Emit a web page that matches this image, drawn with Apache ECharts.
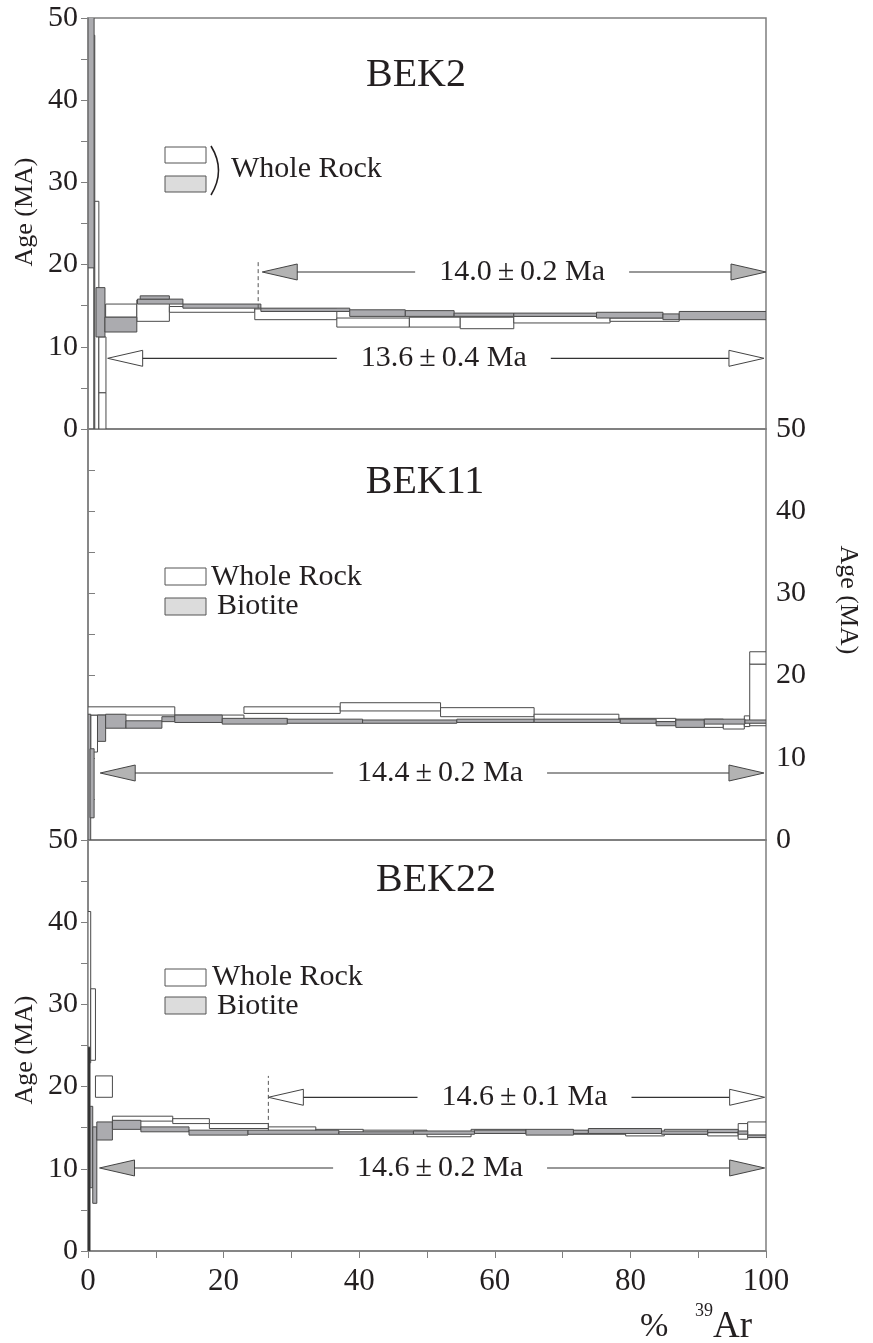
<!DOCTYPE html>
<html><head><meta charset="utf-8">
<script src="https://cdn.jsdelivr.net/npm/echarts@6/dist/echarts.min.js"></script>
<style>html,body{margin:0;padding:0;background:#fff}#c{width:873px;height:1343px}</style>
</head><body><div id="c"></div>
<script>
// ---- data: [x from %, x to %, age low, age high] ----
const bek2Whole = [
  [0.85, 1.0, 0, 47.9], [1.0, 1.6, 0, 27.7], [1.6, 2.65, 4.4, 11.2], [1.6, 2.65, 0, 4.4],
  [2.6, 7.2, 13.6, 15.2], [7.2, 12.0, 13.1, 15.7], [12.0, 24.6, 14.2, 14.9],
  [24.6, 36.7, 13.3, 14.6], [36.7, 47.4, 12.4, 13.5], [47.4, 54.9, 12.4, 13.6],
  [54.9, 62.8, 12.2, 13.6], [62.8, 77.0, 12.9, 13.7], [77.0, 87.2, 13.1, 13.5], [87.2, 100, 13.6, 13.9]
];
const bek2Bio = [
  [0, 0.9, 19.6, 55], [1.18, 2.5, 11.2, 17.2], [2.5, 7.2, 11.8, 13.6], [7.3, 14.0, 15.2, 15.8],
  [7.7, 12.0, 15.8, 16.2], [14.0, 25.5, 14.7, 15.2], [25.5, 38.6, 14.3, 14.7], [38.6, 46.8, 13.7, 14.5],
  [46.8, 54.0, 13.7, 14.4], [54.0, 62.8, 13.7, 14.1], [62.8, 75.0, 13.7, 14.1], [75.0, 84.8, 13.5, 14.2],
  [84.8, 87.2, 13.3, 14.0], [87.2, 100, 13.3, 14.3]
];
const bek11Whole = [
  [0.4, 1.4, 10.7, 15.2], [0, 12.8, 15.2, 16.2], [12.8, 23.0, 14.6, 15.2], [23.0, 37.2, 15.4, 16.2],
  [37.2, 52.0, 15.7, 16.7], [52.0, 65.8, 15.0, 16.1], [65.8, 78.3, 14.5, 15.3], [78.3, 86.7, 14.4, 14.8],
  [86.7, 90.9, 13.9, 14.7], [90.9, 93.7, 13.7, 14.7], [93.7, 96.8, 13.5, 14.4], [96.8, 97.6, 13.8, 15.1],
  [97.6, 100, 13.9, 21.4], [97.6, 100, 21.4, 22.9]
];
const bek11Bio = [
  [0, 0.4, 0, 15.3], [0.3, 0.9, 2.7, 11.1], [1.4, 2.6, 12.0, 15.2], [2.6, 5.6, 13.6, 15.3],
  [5.6, 10.9, 13.6, 14.5], [10.9, 12.8, 14.4, 15.0], [12.8, 19.8, 14.3, 15.2], [19.8, 29.4, 14.1, 14.8],
  [29.4, 40.5, 14.2, 14.7], [40.5, 54.4, 14.2, 14.6], [54.4, 65.8, 14.3, 14.7], [65.8, 78.5, 14.3, 14.7],
  [78.5, 83.8, 14.2, 14.7], [83.8, 86.7, 13.9, 14.4], [86.7, 90.9, 13.7, 14.6], [90.9, 96.9, 14.1, 14.7],
  [96.9, 100, 14.2, 14.6]
];
const bek22Whole = [
  [0, 0.4, 22.9, 41.3], [0.4, 1.1, 23.2, 31.9], [1.1, 3.6, 18.7, 21.3], [3.6, 12.5, 15.8, 16.4],
  [12.5, 17.9, 15.5, 16.1], [17.9, 26.6, 14.9, 15.5], [26.6, 33.6, 14.5, 15.1], [33.6, 40.6, 14.4, 14.8],
  [40.6, 50.0, 14.3, 14.7], [50.0, 56.5, 13.9, 14.4], [56.5, 64.6, 14.4, 14.8], [64.6, 71.6, 14.3, 14.6],
  [71.6, 79.3, 14.2, 14.6], [79.3, 85.0, 14.0, 14.5], [85.0, 91.4, 14.2, 14.8], [91.4, 95.9, 14.0, 14.4],
  [95.9, 97.3, 13.6, 15.5], [97.3, 100, 14.1, 15.7]
];
const bek22Bio = [
  [0.25, 0.7, 7.7, 17.6], [0.7, 1.3, 5.8, 15.1], [1.3, 3.6, 13.5, 15.7],
  [3.6, 7.8, 14.8, 15.9], [7.8, 14.9, 14.5, 15.1], [14.9, 23.6, 14.1, 14.7], [23.6, 37.0, 14.2, 14.7],
  [37.0, 48.0, 14.2, 14.5], [48.0, 57.0, 14.2, 14.6], [57.0, 64.6, 14.3, 14.7], [64.6, 71.6, 14.1, 14.8],
  [71.6, 73.8, 14.3, 14.7], [73.8, 84.6, 14.3, 14.9], [84.6, 91.4, 14.2, 14.6], [91.4, 95.9, 14.4, 14.8],
  [95.9, 97.3, 14.2, 14.6], [97.3, 100, 13.8, 14.1]
];
const bek22BioFirst = [[0, 0.3, 0, 24.8]];
// plateau arrows: [from %, to %, drawn at age, plateau age, error, filled head (1) / open (0)]
const bek2Plateaus = [[25.7, 100, 19.1, 14.0, 0.2, 1], [2.9, 99.7, 8.6, 13.6, 0.4, 0]];
const bek11Plateaus = [[1.8, 99.7, 8.15, 14.4, 0.2, 1]];
const bek22Plateaus = [[26.6, 99.8, 18.7, 14.6, 0.1, 0], [1.7, 99.8, 10.1, 14.6, 0.2, 1]];
// dashed plateau start markers: [x %, age low, age high]
const bek2Dash = [[25.1, 14.7, 20.6]];
const bek22Dash = [[26.6, 15.1, 21.3]];
const sampleNames = ['BEK2', 'BEK11', 'BEK22'];
const yTicksMajor = [0, 10, 20, 30, 40, 50];
const xTicksMajor = [0, 20, 40, 60, 80, 100];

const FONT = '"Liberation Serif", "Times New Roman", serif';
const TXT = '#231f20';
const AXC = '#7f7f7f';
const STROKE = '#4a4a4a';
const BIO = '#ababaf';
const LEG_BIO = '#dcdcdc';

const mctx = document.createElement('canvas').getContext('2d');
function textW(t, size) { mctx.font = size + 'px ' + FONT; return mctx.measureText(t).width; }

function stepRender(fill) {
  return function (params, api) {
    const p0 = api.coord([api.value(0), api.value(3)]);
    const p1 = api.coord([api.value(1), api.value(2)]);
    return { type: 'rect', shape: { x: p0[0], y: p0[1], width: p1[0] - p0[0], height: p1[1] - p0[1] },
      style: { fill: fill, stroke: STROKE, lineWidth: 1 } };
  };
}
function arrowRender(params, api) {
  const y = api.coord([0, api.value(2)])[1];
  const xl = api.coord([api.value(0), 0])[0];
  const xr = api.coord([api.value(1), 0])[0];
  const fill = api.value(5) === 1 ? '#b3b3b3' : '#ffffff';
  const label = api.value(3).toFixed(1) + '\u2009±\u2009' + api.value(4).toFixed(1) + ' Ma';
  const fs = 30;
  const tw = textW(label, fs);
  const cx = (xl + xr) / 2 + 8;
  const hl = 35, hh = 8, gap = 24;
  const ls = { stroke: '#333', lineWidth: 1.2 };
  return { type: 'group', children: [
    { type: 'polygon', shape: { points: [[xl, y], [xl + hl, y - hh], [xl + hl, y + hh]] }, style: { fill: fill, stroke: '#444', lineWidth: 1 } },
    { type: 'line', shape: { x1: xl + hl, y1: y, x2: cx - tw / 2 - gap, y2: y }, style: ls },
    { type: 'text', x: cx, y: y, style: { text: label, font: fs + 'px ' + FONT, fill: TXT, align: 'center', verticalAlign: 'middle' } },
    { type: 'line', shape: { x1: cx + tw / 2 + gap, y1: y, x2: xr - hl, y2: y }, style: ls },
    { type: 'polygon', shape: { points: [[xr, y], [xr - hl, y - hh], [xr - hl, y + hh]] }, style: { fill: fill, stroke: '#444', lineWidth: 1 } }
  ] };
}
function dashRender(params, api) {
  const a = api.coord([api.value(0), api.value(1)]);
  const b = api.coord([api.value(0), api.value(2)]);
  return { type: 'line', shape: { x1: a[0], y1: a[1], x2: b[0], y2: b[1] }, style: { stroke: '#555', lineWidth: 1, lineDash: [4, 3] } };
}

const tops = [18, 429, 840];
const grids = tops.map(t => ({ left: 88, width: 678, top: t, height: 411, show: true, borderColor: AXC, borderWidth: 1.5, backgroundColor: 'transparent' }));
const xAxes = tops.map((t, i) => ({
  gridIndex: i, type: 'value', min: 0, max: 100, interval: 10,
  axisLine: { show: true, lineStyle: { color: AXC, width: 1.5 } },
  axisTick: { show: i === 2, inside: false, length: 7, lineStyle: { color: AXC } },
  axisLabel: { show: i === 2, margin: 15, fontFamily: FONT, fontSize: 31, color: TXT, formatter: v => (xTicksMajor.indexOf(v) >= 0 ? String(v) : '') },
  splitLine: { show: false }
}));
const yAxes = tops.map((t, i) => ({
  gridIndex: i, type: 'value', min: 0, max: 50, interval: 5, position: i === 1 ? 'right' : 'left',
  axisLine: { show: true, lineStyle: { color: AXC, width: 1.5 } },
  axisTick: { show: true, inside: false, length: 7, lineStyle: { color: AXC } },
  axisLabel: { margin: 10, fontFamily: FONT, fontSize: 30, color: TXT, formatter: v => (yTicksMajor.indexOf(v) >= 0 ? String(v) : '') },
  splitLine: { show: false }
}));

const stepSets = [[bek2Whole, bek2Bio], [bek11Whole, bek11Bio], [bek22Whole, bek22Bio]];
const plateauSets = [bek2Plateaus, bek11Plateaus, bek22Plateaus];
const dashSets = [bek2Dash, [], bek22Dash];
const series = [];
stepSets.forEach((s, i) => {
  series.push({ type: 'custom', xAxisIndex: i, yAxisIndex: i, clip: true, renderItem: stepRender('#ffffff'), encode: { x: [0, 1], y: [2, 3] }, data: s[0], silent: true });
  series.push({ type: 'custom', xAxisIndex: i, yAxisIndex: i, clip: true, renderItem: stepRender(BIO), encode: { x: [0, 1], y: [2, 3] }, data: s[1], silent: true });
  if (i === 2) series.push({ type: 'custom', xAxisIndex: i, yAxisIndex: i, clip: true, renderItem: stepRender('#1e1e1e'), encode: { x: [0, 1], y: [2, 3] }, data: bek22BioFirst, silent: true });
  series.push({ type: 'custom', xAxisIndex: i, yAxisIndex: i, renderItem: arrowRender, encode: { x: [0, 1], y: 2 }, data: plateauSets[i], silent: true });
  if (dashSets[i].length) series.push({ type: 'custom', xAxisIndex: i, yAxisIndex: i, renderItem: dashRender, encode: { x: 0, y: [1, 2] }, data: dashSets[i], silent: true });
});

const tStyle = (text, size) => ({ text: text, font: size + 'px ' + FONT, fill: TXT });
function legendBox(x, y, h, fill) {
  return { type: 'rect', shape: { x: x, y: y, width: 41, height: h }, style: { fill: fill, stroke: '#555', lineWidth: 1 } };
}
const graphic = [
  { type: 'text', x: 416, y: 75, style: Object.assign(tStyle(sampleNames[0], 40), { align: 'center', verticalAlign: 'middle' }) },
  { type: 'text', x: 425, y: 482, style: Object.assign(tStyle(sampleNames[1], 40), { align: 'center', verticalAlign: 'middle' }) },
  { type: 'text', x: 436, y: 880, style: Object.assign(tStyle(sampleNames[2], 40), { align: 'center', verticalAlign: 'middle' }) },
  // legend panel 1
  legendBox(165, 147, 16, '#fff'), legendBox(165, 176, 16, LEG_BIO),
  { type: 'bezierCurve', shape: { x1: 211, y1: 146, x2: 211, y2: 195, cpx1: 226, cpy1: 170.5 }, style: { stroke: TXT, lineWidth: 1.6, fill: null } },
  { type: 'text', x: 231, y: 169, style: Object.assign(tStyle('Whole Rock', 30), { verticalAlign: 'middle' }) },
  // legend panel 2
  legendBox(165, 568, 17, '#fff'), legendBox(165, 598, 17, LEG_BIO),
  { type: 'text', x: 211, y: 577, style: Object.assign(tStyle('Whole Rock', 30), { verticalAlign: 'middle' }) },
  { type: 'text', x: 217, y: 606, style: Object.assign(tStyle('Biotite', 30), { verticalAlign: 'middle' }) },
  // legend panel 3
  legendBox(165, 969, 17, '#fff'), legendBox(165, 997, 17, LEG_BIO),
  { type: 'text', x: 212, y: 977, style: Object.assign(tStyle('Whole Rock', 30), { verticalAlign: 'middle' }) },
  { type: 'text', x: 217, y: 1006, style: Object.assign(tStyle('Biotite', 30), { verticalAlign: 'middle' }) },
  // axis titles
  { type: 'text', x: 25, y: 212, rotation: Math.PI / 2, style: Object.assign(tStyle('Age (MA)', 26), { align: 'center', verticalAlign: 'middle' }) },
  { type: 'text', x: 848, y: 600, rotation: -Math.PI / 2, style: Object.assign(tStyle('Age (MA)', 26), { align: 'center', verticalAlign: 'middle' }) },
  { type: 'text', x: 25, y: 1050, rotation: Math.PI / 2, style: Object.assign(tStyle('Age (MA)', 26), { align: 'center', verticalAlign: 'middle' }) },
  { type: 'text', x: 640, y: 1327, style: Object.assign(tStyle('%', 34), { verticalAlign: 'middle' }) },
  { type: 'text', x: 695, y: 1311, style: Object.assign(tStyle('39', 18), { verticalAlign: 'middle' }) },
  { type: 'text', x: 713, y: 1327, style: Object.assign(tStyle('Ar', 37), { verticalAlign: 'middle' }) }
];

const chart = echarts.init(document.getElementById('c'), null, { renderer: 'canvas' });
chart.setOption({ animation: false, backgroundColor: '#fff', grid: grids, xAxis: xAxes, yAxis: yAxes, series: series, graphic: graphic });
</script>
</body></html>
